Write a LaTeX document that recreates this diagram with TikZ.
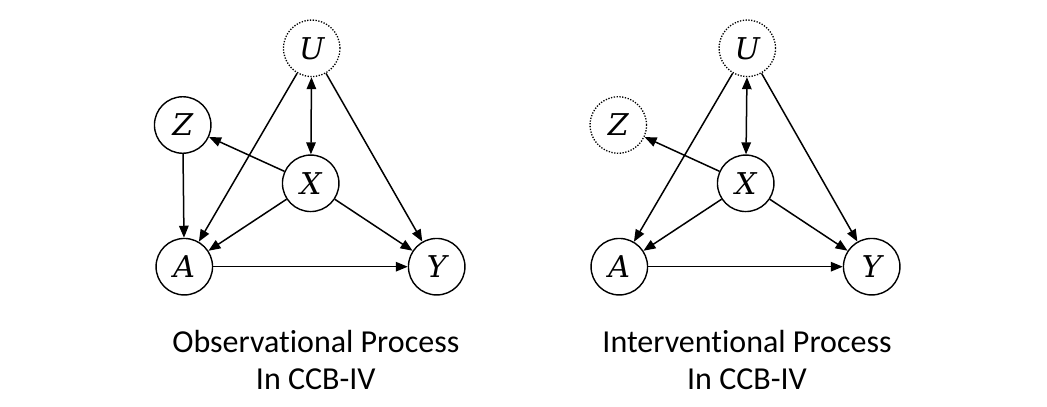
\documentclass[tikz,border=0pt]{standalone}
\usepackage{fontspec}
\newfontfamily\capfont[Ligatures=NoCommon]{Carlito}
\newfontfamily\varfont{DejaVu Serif}
\newcommand{\vlab}[1]{{\varfont\itshape\fontsize{30}{30}\selectfont #1}}
\usetikzlibrary{arrows.meta}
\tikzset{
  var/.style={circle,draw,line width=1.4pt,minimum size=56.5pt,inner sep=0pt},
  latent/.style={var,line width=1.3pt,dash pattern=on 1.3pt off 1.5pt},
  edge/.style={line width=1.5pt,-{Triangle[length=12pt,width=9.5pt]}},
  bidir/.style={line width=1.5pt,{Triangle[length=12pt,width=9.5pt]}-{Triangle[length=12pt,width=9.5pt]}},
  caption/.style={align=center,font=\capfont\fontsize{32}{37}\selectfont}
}
\begin{document}
\begin{tikzpicture}[x=1pt,y=-1pt]
\useasboundingbox (0,0) rectangle (1047,407);
% left diagram
\node[latent] (U1) at (311.7,48.3) {\vlab{U}};
\node[var] (Z1) at (182.7,125) {\vlab{Z}};
\node[var] (X1) at (310.7,183.3) {\vlab{X}};
\node[var] (A1) at (184.3,266.7) {\vlab{A}};
\node[var] (Y1) at (436.7,266.7) {\vlab{Y}};
\draw[edge] (U1) -- (A1);
\draw[edge] (U1) -- (Y1);
\draw[bidir] (U1) -- (X1);
\draw[edge] (X1) -- (Z1);
\draw[edge] (Z1) -- (A1);
\draw[edge] (X1) -- (A1);
\draw[edge] (X1) -- (Y1);
\draw[edge] (A1) -- (Y1);
\node[caption] (C1) at (315.8,360) {Observational Process\\In CCB-IV};
% right diagram
\node[latent] (U2) at (747.3,48.3) {\vlab{U}};
\node[latent] (Z2) at (618.3,125) {\vlab{Z}};
\node[var] (X2) at (745.7,183.3) {\vlab{X}};
\node[var] (A2) at (619.3,266.7) {\vlab{A}};
\node[var] (Y2) at (871.7,266.7) {\vlab{Y}};
\draw[edge] (U2) -- (A2);
\draw[edge] (U2) -- (Y2);
\draw[bidir] (U2) -- (X2);
\draw[edge] (X2) -- (Z2);
\draw[edge] (X2) -- (A2);
\draw[edge] (X2) -- (Y2);
\draw[edge] (A2) -- (Y2);
\node[caption] (C2) at (747,360) {Interventional Process\\In CCB-IV};
\end{tikzpicture}
\end{document}
